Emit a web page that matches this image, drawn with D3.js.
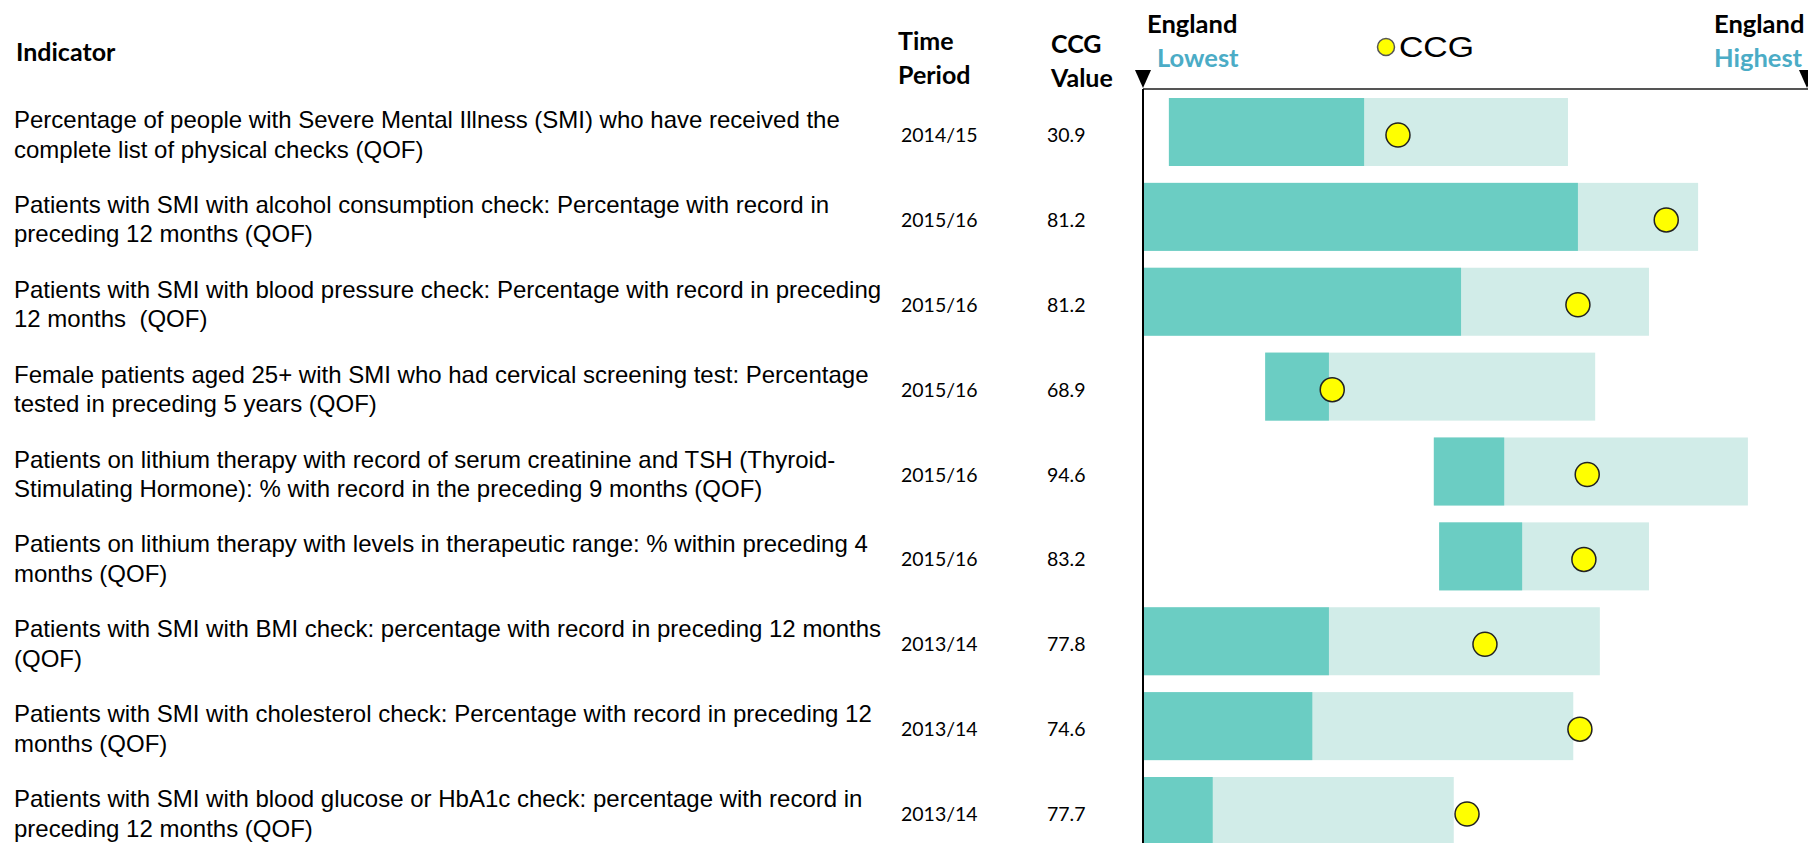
<!DOCTYPE html>
<html>
<head>
<meta charset="utf-8">
<script src="https://cdn.jsdelivr.net/npm/d3@7"></script>
<style>
  body { margin: 0; background: #fff; }
  svg { display: block; }
</style>
</head>
<body>
<svg id="chart"></svg>
<script>
// indicator labels, already split the way the picture wraps them
const indicators = [
    ["Percentage of people with Severe Mental Illness (SMI) who have received the", "complete list of physical checks (QOF)"],
    ["Patients with SMI with alcohol consumption check: Percentage with record in", "preceding 12 months (QOF)"],
    ["Patients with SMI with blood pressure check: Percentage with record in preceding", "12 months  (QOF)"],
    ["Female patients aged 25+ with SMI who had cervical screening test: Percentage", "tested in preceding 5 years (QOF)"],
    ["Patients on lithium therapy with record of serum creatinine and TSH (Thyroid-", "Stimulating Hormone): % with record in the preceding 9 months (QOF)"],
    ["Patients on lithium therapy with levels in therapeutic range: % within preceding 4", "months (QOF)"],
    ["Patients with SMI with BMI check: percentage with record in preceding 12 months", "(QOF)"],
    ["Patients with SMI with cholesterol check: Percentage with record in preceding 12", "months (QOF)"],
    ["Patients with SMI with blood glucose or HbA1c check: percentage with record in", "preceding 12 months (QOF)"]
];
const periods = ["2014/15", "2015/16", "2015/16", "2015/16", "2015/16", "2015/16", "2013/14", "2013/14", "2013/14"];
const ccgValues = ["30.9", "81.2", "81.2", "68.9", "94.6", "83.2", "77.8", "74.6", "77.7"];

// positions on the spine, 0 = England lowest, 100 = England highest
const rangeStart = [3.9, 0, 0, 18.4, 43.8, 44.6, 0, 0, 0];
const rangeMid = [33.3, 65.5, 47.9, 28.0, 54.4, 57.1, 28.0, 25.5, 10.5];
const rangeEnd = [64.0, 83.6, 76.2, 68.1, 91.1, 76.2, 68.8, 64.8, 46.8];
const ccgPos = [38.4, 78.8, 65.5, 28.5, 66.9, 66.4, 51.5, 65.8, 48.8];

const width = 1808,
    height = 843;

const darkTeal = "#6bcdc3",
    lightTeal = "#d1ece8",
    blueText = "#4bacc6";

const svg = d3.select("#chart")
    .attr("width", width)
    .attr("height", height);

const rows = d3.range(indicators.length);

const x = d3.scaleLinear()
    .domain([0, 100])
    .range([1143, 1807]);

const y = d3.scalePoint()
    .domain(rows)
    .range([132, 811]);

const barH = 68;

const headFont = "Lato, 'Open Sans', sans-serif";
const bodyFont = "'Liberation Sans', Arial, sans-serif";

// column headers
svg.append("text")
    .attr("x", 16).attr("y", 61)
    .attr("font-family", headFont).attr("font-weight", "bold").attr("font-size", 25)
    .text("Indicator");

[["Time", 50], ["Period", 84]].forEach(d => {
    svg.append("text")
        .attr("x", 898).attr("y", d[1])
        .attr("font-family", headFont).attr("font-weight", "bold").attr("font-size", 25)
        .text(d[0]);
});
[["CCG", 53], ["Value", 87]].forEach(d => {
    svg.append("text")
        .attr("x", 1051).attr("y", d[1])
        .attr("font-family", headFont).attr("font-weight", "bold").attr("font-size", 25)
        .text(d[0]);
});

// England lowest / highest labels
svg.append("text").attr("x", 1147).attr("y", 33)
    .attr("font-family", headFont).attr("font-weight", "bold").attr("font-size", 25.5)
    .text("England");
svg.append("text").attr("x", 1157).attr("y", 67)
    .attr("font-family", headFont).attr("font-weight", "bold").attr("font-size", 25.5)
    .attr("fill", blueText)
    .text("Lowest");
svg.append("text").attr("x", 1714).attr("y", 33)
    .attr("font-family", headFont).attr("font-weight", "bold").attr("font-size", 25.5)
    .text("England");
svg.append("text").attr("x", 1714).attr("y", 67)
    .attr("font-family", headFont).attr("font-weight", "bold").attr("font-size", 25.5)
    .attr("fill", blueText)
    .text("Highest");

// legend
svg.append("circle")
    .attr("cx", 1386).attr("cy", 47).attr("r", 8.5)
    .attr("fill", "#ffff00").attr("stroke", "#555").attr("stroke-width", 1.5);
svg.append("text").attr("x", 1399).attr("y", 57)
    .attr("font-family", bodyFont).attr("font-size", 29)
    .attr("textLength", 75).attr("lengthAdjust", "spacingAndGlyphs")
    .text("CCG");

// spine frame
svg.append("line")
    .attr("x1", x(0)).attr("x2", width)
    .attr("y1", 89).attr("y2", 89)
    .attr("stroke", "#555").attr("stroke-width", 2);

[0, 100].forEach(v => {
    const tx = x(v);
    svg.append("path")
        .attr("d", `M${tx - 8},70 L${tx + 8},70 L${tx},88 Z`)
        .attr("fill", "#000");
});

// rows
const row = svg.selectAll("g.row")
    .data(rows)
    .join("g")
    .attr("class", "row");

row.append("text")
    .attr("font-family", bodyFont)
    .attr("font-size", 24)
    .attr("fill", "#000")
    .style("white-space", "pre")
    .each(function(i) {
        const t = d3.select(this);
        indicators[i].forEach((line, k) => {
            t.append("tspan")
                .attr("x", 14)
                .attr("y", y(i) - 4 + k * 29.5)
                .text(line);
        });
    });

row.append("text")
    .attr("x", 901)
    .attr("y", i => y(i) + 10)
    .attr("font-family", headFont)
    .attr("font-size", 19.5)
    .text(i => periods[i]);

row.append("text")
    .attr("x", 1047)
    .attr("y", i => y(i) + 10)
    .attr("font-family", headFont)
    .attr("font-size", 19.5)
    .text(i => ccgValues[i]);

row.append("rect")
    .attr("x", i => x(rangeStart[i]))
    .attr("y", i => y(i) - barH / 2)
    .attr("width", i => x(rangeEnd[i]) - x(rangeStart[i]))
    .attr("height", barH)
    .attr("fill", lightTeal);

row.append("rect")
    .attr("x", i => x(rangeStart[i]))
    .attr("y", i => y(i) - barH / 2)
    .attr("width", i => x(rangeMid[i]) - x(rangeStart[i]))
    .attr("height", barH)
    .attr("fill", darkTeal);

row.append("circle")
    .attr("cx", i => x(ccgPos[i]))
    .attr("cy", i => y(i) + 3)
    .attr("r", 12)
    .attr("fill", "#ffff00")
    .attr("stroke", "#222")
    .attr("stroke-width", 1.5);

// left spine drawn last so it sits over the bars
svg.append("line")
    .attr("x1", x(0)).attr("x2", x(0))
    .attr("y1", 89).attr("y2", height)
    .attr("stroke", "#000").attr("stroke-width", 2);
</script>
</body>
</html>
